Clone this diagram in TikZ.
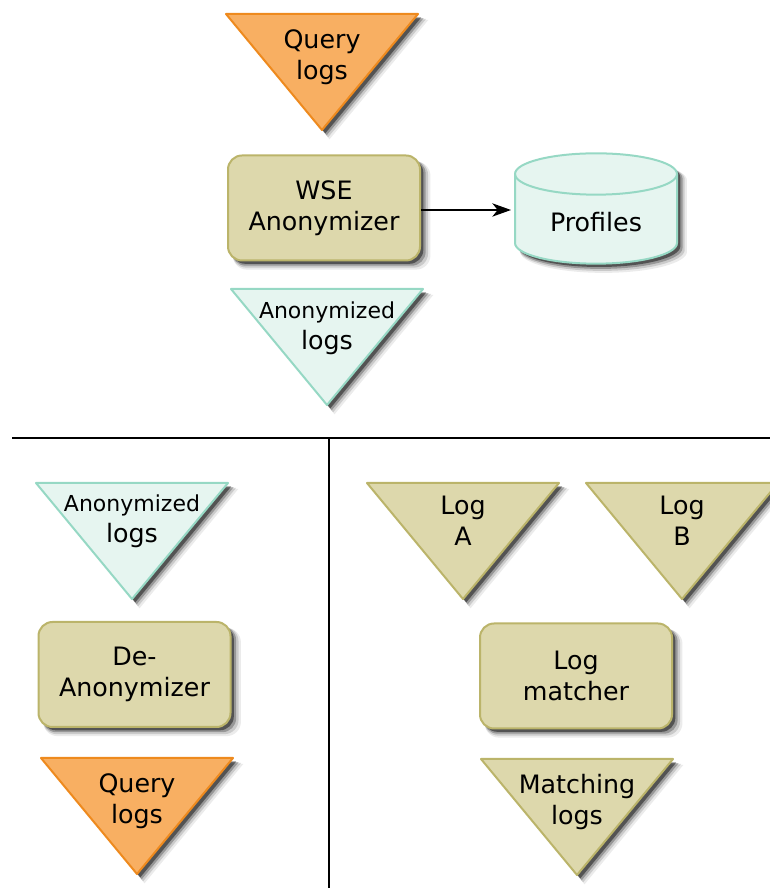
\documentclass[tikz,border=0pt]{standalone}
\usepackage{fontspec}
\setmainfont{DejaVu Sans}
\usetikzlibrary{shadows,arrows.meta}

\definecolor{queryfill}{HTML}{F8AF62}
\definecolor{queryline}{HTML}{EE8A1E}
\definecolor{khakifill}{HTML}{DDD8AC}
\definecolor{khakiline}{HTML}{BBB46A}
\definecolor{mintfill}{HTML}{E6F5F0}
\definecolor{mintline}{HTML}{96D8C4}

\tikzset{
  softshadow/.style={
    drop shadow={shadow xshift=5.5pt, shadow yshift=-5.5pt, shadow scale=1.03, opacity=.08, fill=black},
    drop shadow={shadow xshift=4.5pt, shadow yshift=-4.5pt, shadow scale=1.02, opacity=.14, fill=black},
    drop shadow={shadow xshift=3.5pt, shadow yshift=-3.5pt, shadow scale=1.01, opacity=.25, fill=black},
    drop shadow={shadow xshift=2.5pt, shadow yshift=-2.5pt, opacity=.45, fill=black}},
  querylog/.style={fill=queryfill, draw=queryline, line width=1.5pt, line join=round, softshadow},
  khakilog/.style={fill=khakifill, draw=khakiline, line width=1.5pt, line join=round, softshadow},
  mintlog/.style={fill=mintfill, draw=mintline, line width=1.5pt, line join=round, softshadow},
  tritext/.style={align=center, font=\fontsize{19pt}{23.5pt}\selectfont, inner sep=0pt},
  procbox/.style={rectangle, rounded corners=10.5pt, fill=khakifill, draw=khakiline,
    line width=1.5pt, minimum width=144pt, minimum height=78.75pt, align=center,
    font=\fontsize{19pt}{23.5pt}\selectfont, softshadow},
  divider/.style={line width=1.4pt, black}
}

% #1 name, #2 centre x, #3 top y, #4 text drop, #5 style, #6 text
\newcommand{\logtri}[6]{%
  \filldraw[#5] (#2-96,#3) -- (#2+96,#3) -- (#2,#3-116) -- cycle;
  \node[tritext] (#1) at (#2,#3-#4) {#6};
}
\newcommand{\smallword}[1]{{\fontsize{16.5pt}{20pt}\selectfont #1}}

\begin{document}
\begin{tikzpicture}[x=0.75pt, y=0.75pt]
  \useasboundingbox (0,0) rectangle (770,888);

  % anonymizer side
  \logtri{querytop}{322}{874}{43}{querylog}{Query\\logs}
  \node[procbox] (wse) at (324,680) {WSE\\Anonymizer};
  \logtri{anontop}{327}{599}{39}{mintlog}{\smallword{Anonymized}\\logs}

  % profiles store
  \filldraw[fill=mintfill, draw=mintline, line width=1.5pt, softshadow]
    (515,714) -- (515,645) arc[start angle=180, end angle=360, x radius=60.75pt, y radius=15.5pt]
    -- (677,714) arc[start angle=0, end angle=180, x radius=60.75pt, y radius=15.5pt] -- cycle;
  \draw[draw=mintline, line width=1.5pt]
    (515,714) arc[start angle=180, end angle=360, x radius=60.75pt, y radius=15.5pt];
  \node[font=\fontsize{19pt}{23pt}\selectfont, inner sep=0pt] (profiles) at (596,666) {Profiles};
  \coordinate (profilesin) at (511,678);
  \draw[line width=1.1pt, -{Stealth[length=14pt, width=10pt, inset=4pt]}] (wse.east |- profilesin) -- (profilesin);

  % dividers
  \coordinate (hleft) at (12,450);
  \coordinate (hright) at (770,450);
  \coordinate (vtop) at (329,450);
  \coordinate (vbottom) at (329,0);
  \draw[divider] (hleft) -- (hright);
  \draw[divider, line width=1.1pt] (vtop) -- (vbottom);

  % de-anonymizer side
  \logtri{anonleft}{132}{405}{38}{mintlog}{\smallword{Anonymized}\\logs}
  \node[procbox] (deanon) at (134.5,213.5) {De-\\Anonymizer};
  \logtri{querybottom}{137}{130}{43}{querylog}{Query\\logs}

  % matcher side
  \logtri{loga}{463}{405}{38}{khakilog}{Log\\A}
  \logtri{logb}{682}{405}{38}{khakilog}{Log\\B}
  \node[procbox] (matcher) at (576,212) {Log\\matcher};
  \logtri{matching}{577}{129}{43}{khakilog}{Matching\\logs}
\end{tikzpicture}
\end{document}
